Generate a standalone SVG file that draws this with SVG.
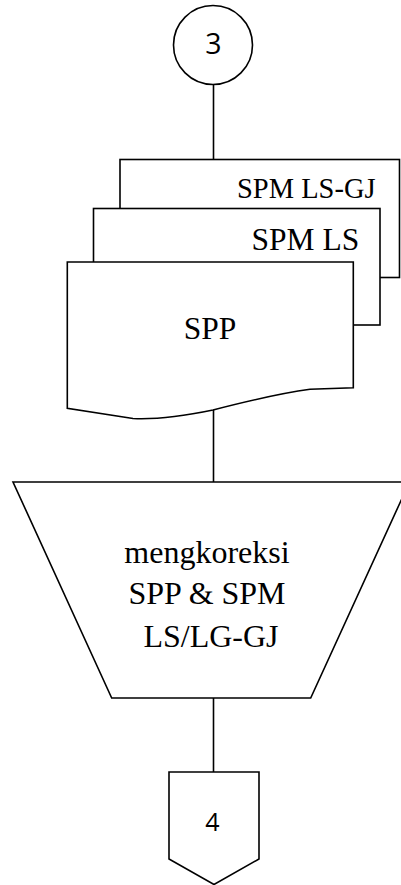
<svg xmlns="http://www.w3.org/2000/svg" width="401" height="885" viewBox="0 0 401 885">
<style>
.s{fill:#fff;stroke:#000;stroke-width:1.6}
.c{fill:none;stroke:#000;stroke-width:1.6}
.t{font-family:"Liberation Serif","Times New Roman",serif;fill:#000}
.n{font-family:"Open Sans","Noto Sans",sans-serif;fill:#000}
</style>
<g id="connectors">
<line class="c" x1="213.5" y1="85" x2="213.5" y2="159"/>
<line class="c" x1="213.5" y1="409" x2="213.5" y2="482"/>
<line class="c" x1="213.5" y1="698" x2="213.5" y2="772"/>
</g>
<g id="n3">
<circle class="s" cx="213" cy="45" r="39.5"/>
<text class="n" x="213.5" y="53.5" font-size="28.5" text-anchor="middle">3</text>
</g>
<g id="docs">
<g id="spmlsgj">
<rect class="s" x="120" y="159.5" width="279.5" height="118"/>
<text class="t" x="237" y="198.3" font-size="28.5">SPM LS-GJ</text>
</g>
<g id="spmls">
<rect class="s" x="93.5" y="208.5" width="286.5" height="116.5"/>
<text class="t" x="251.5" y="250" font-size="31.5">SPM LS</text>
</g>
<g id="spp">
<path class="s" d="M67.3,262 H353.3 V387.7 L310,389.3 Q275,394 213,410 Q165,420 133,418.5 L67.3,408.3 Z"/>
<text class="t" x="210" y="338.5" font-size="31.5" text-anchor="middle">SPP</text>
</g>
</g>
<g id="koreksi">
<polygon class="s" points="13,482 409.5,482 310.7,698 111.7,698"/>
<text class="t" font-size="32" text-anchor="middle">
<tspan x="211" y="562.7">mengkoreksi</tspan>
<tspan x="211" y="604.3">SPP &amp; SPM</tspan>
<tspan x="211" y="646.7">LS/LG-GJ</tspan>
</text>
</g>
<g id="n4">
<polygon class="s" points="169,772 259,772 259,859 214,884.5 169,859"/>
<text class="n" x="212.5" y="831" font-size="25" text-anchor="middle">4</text>
</g>
</svg>
